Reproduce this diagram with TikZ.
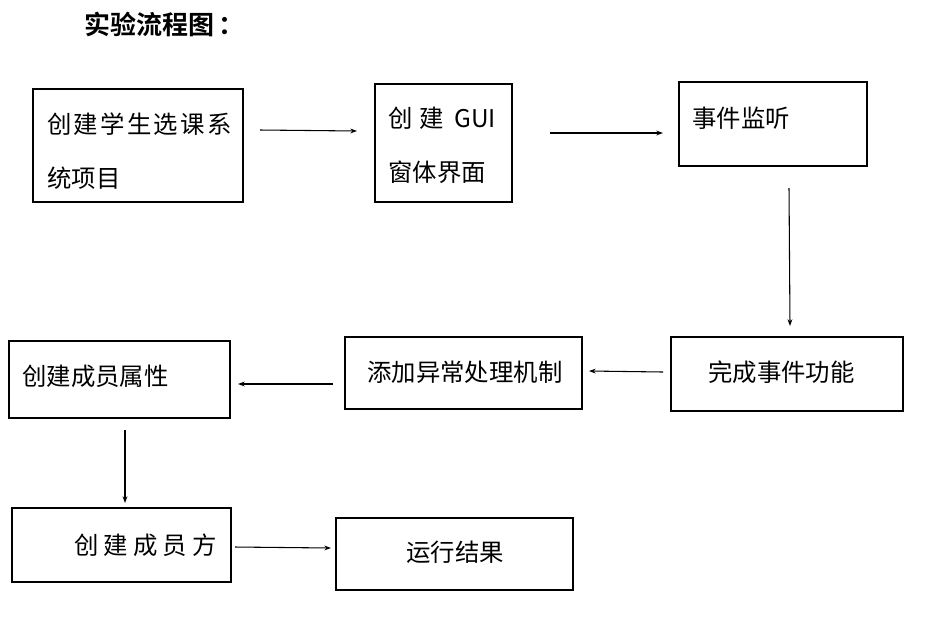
\documentclass[tikz,border=0pt]{standalone}
\usepackage{fontspec}
\newfontfamily\cjk{Noto Sans CJK SC}[BoldFont={Noto Sans CJK SC Bold}]
\usetikzlibrary{fit,arrows.meta}
\begin{document}
\begin{tikzpicture}[x=0.75pt,y=-0.75pt,
  box/.style={draw=black,line width=0.8pt,inner sep=0pt,fill=white},
  lbl/.style={inner sep=0pt,font=\cjk\fontsize{18.3pt}{20pt}\selectfont},
  ttl/.style={inner sep=0pt,font=\cjk\bfseries\fontsize{19.5pt}{21pt}\selectfont},
  arr/.style={draw=black,line width=0.8pt,-{Stealth[length=5pt,width=3.6pt]}}]
\useasboundingbox[fill=white] (0,0) rectangle (930,637);

% title
\node[ttl,anchor=west] (title) at (84,24) {实验流程图\hspace{3pt}：};

% boxes
\node[box,fit={(33,89) (243,202)}] (b1) {};
\node[box,fit={(375,84) (512,202)}] (b2) {};
\node[box,fit={(679,82) (867,166)}] (b3) {};
\node[box,fit={(671,337) (903,411)}] (b4) {};
\node[box,fit={(345,337) (582,409)}] (b5) {};
\node[box,fit={(9,341) (230,418)}] (b6) {};
\node[box,fit={(12,508) (231,582)}] (b7) {};
\node[box,fit={(336,518) (573,590)}] (b8) {};

% box texts
\node[lbl,anchor=west] (t1a) at (47,124) {创\hspace{1.7pt}建\hspace{1.7pt}学\hspace{1.7pt}生\hspace{1.7pt}选\hspace{1.7pt}课\hspace{1.7pt}系};
\node[lbl,anchor=west] (t1b) at (47,178) {统项目};
\node[lbl,anchor=west] (t2a) at (388,118) {创\hspace{5pt}建\hspace{8pt}GUI};
\node[lbl,anchor=west] (t2b) at (388,172) {窗体界面};
\node[lbl,anchor=west] (t3) at (692,118) {事件监听};
\node[lbl,anchor=west] (t4) at (708,372) {完成事件功能};
\node[lbl,anchor=west] (t5) at (367,372) {添加异常处理机制};
\node[lbl,anchor=west] (t6) at (22,376) {创建成员属性};
\node[lbl,anchor=west] (t7) at (74,545) {创\hspace{3.8pt}建\hspace{3.8pt}成\hspace{3.8pt}员\hspace{3.8pt}方};
\node[lbl,anchor=west] (t8) at (406,552) {运行结果};

% connector ends
\coordinate (a1s) at (260,130); \coordinate (a1e) at (357,131);
\coordinate (a2s) at (550,133); \coordinate (a2e) at (663,133);
\coordinate (a3s) at (789,188); \coordinate (a3e) at (790,326);
\coordinate (a4s) at (663,372); \coordinate (a4e) at (589,371);
\coordinate (a5s) at (333,384); \coordinate (a5e) at (238,384);
\coordinate (a6s) at (125,430); \coordinate (a6e) at (125,503);
\coordinate (a7s) at (235,547); \coordinate (a7e) at (331,548);

\draw[arr] (a1s) -- (a1e);
\draw[arr] (a2s) -- (a2e);
\draw[arr] (a3s) -- (a3e);
\draw[arr] (a4s) -- (a4e);
\draw[arr] (a5s) -- (a5e);
\draw[arr] (a6s) -- (a6e);
\draw[arr] (a7s) -- (a7e);
\end{tikzpicture}
\end{document}
